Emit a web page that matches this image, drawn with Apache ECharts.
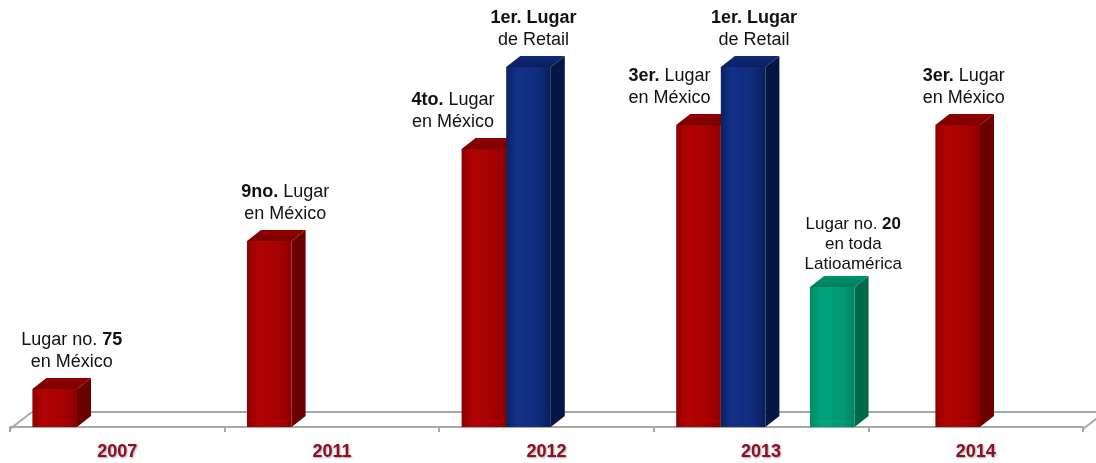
<!DOCTYPE html>
<html>
<head>
<meta charset="utf-8">
<script src="https://cdn.jsdelivr.net/npm/echarts@6/dist/echarts.min.js"></script>
<style>
html,body{margin:0;padding:0;background:#fff;}
#chart{width:1096px;height:463px;}
</style>
</head>
<body>
<div id="chart"></div>
<script>
// ---- data ----
const categories = ['2007', '2011', '2012', '2013', '2014'];
const mexicoRank     = [38, 186, 278, 302, null];
const retailRank     = [null, null, 360, 360, null];
const mexico2014Rank = [null, null, null, null, 302];
const latamRank      = [null, null, null, 140, null];

const mexicoLabels     = ['Lugar no. {b|75}\nen México', '{b|9no.} Lugar\nen México', '{b|4to.} Lugar\nen México', '{b|3er.} Lugar\nen México', ''];
const retailLabels     = ['', '', '{b|1er. Lugar}\nde Retail', '{b|1er. Lugar}\nde Retail', ''];
const mexico2014Labels = ['', '', '', '', '{b|3er.} Lugar\nen México'];
const latamLabels      = ['', '', '', 'Lugar no. {b|20}\nen toda\nLatioamérica', ''];

// ---- layout / style (not data) ----
const FONT = '"Liberation Sans", Arial, sans-serif';
const DX = 14, DY = 11;
const palettes = {
  red:   {front: ['#8e0000', '#b20303', '#a50000', '#8c0000'], side: '#6a0000', top: ['#7a0000', '#920000']},
  blue:  {front: ['#0a2262', '#13328a', '#0f2b79', '#0a1f58'], side: '#051642', top: ['#0a2060', '#10297a']},
  green: {front: ['#008a66', '#00a47d', '#009a74', '#008462'], side: '#006a4c', top: ['#007d5b', '#00936c']}
};

function buildData(values) {
  return values.map((v, i) => [i, v == null ? NaN : v]);
}

const labels3D = {1: mexicoLabels, 2: retailLabels, 3: mexico2014Labels, 4: latamLabels};

function barRenderer(slot, pal, labelShift, fontSize, lineHeight, labelGap) {
  return function (params, api) {
    const idx = api.value(0);
    const v = api.value(1);
    if (v == null || isNaN(v)) return;
    const label = labels3D[params.seriesIndex][params.dataIndex];
    const top = api.coord([idx, v]);
    const base = api.coord([idx, 0]);
    const bandW = api.size([1, 0])[0];
    const bw = bandW * 0.2078;
    const x0 = base[0] - bandW / 2 + bandW * 0.1044 + slot * bw;
    const x1 = x0 + bw;
    const yT = top[1], yB = base[1];
    const children = [
      {
        type: 'polygon',
        shape: {points: [[x1, yT], [x1 + DX, yT - DY], [x1 + DX, yB - DY], [x1, yB]]},
        style: {fill: pal.side}
      },
      {
        type: 'polygon',
        shape: {points: [[x0, yT], [x0 + DX, yT - DY], [x1 + DX, yT - DY], [x1, yT]]},
        style: {fill: new echarts.graphic.LinearGradient(0, 1, 0, 0, [
          {offset: 0, color: pal.top[0]}, {offset: 1, color: pal.top[1]}])}
      },
      {
        type: 'rect',
        shape: {x: x0, y: yT, width: bw, height: yB - yT},
        style: {fill: new echarts.graphic.LinearGradient(0, 0, 1, 0, [
          {offset: 0, color: pal.front[0]},
          {offset: 0.25, color: pal.front[1]},
          {offset: 0.75, color: pal.front[2]},
          {offset: 1, color: pal.front[3]}])}
      }
    ];
    if (label) {
      children.push({
        type: 'text',
        style: {
          text: label,
          x: x0 + bw / 2 + (labelShift[idx] || 0),
          y: yT - DY - labelGap,
          align: 'center',
          verticalAlign: 'bottom',
          fill: '#111',
          fontSize: fontSize,
          fontFamily: FONT,
          lineHeight: lineHeight,
          rich: {b: {fontWeight: 'bold', fontSize: fontSize, fontFamily: FONT, lineHeight: lineHeight, fill: '#111'}}
        }
      });
    }
    return {type: 'group', children: children};
  };
}

function floorRenderer(params, api) {
  const cs = params.coordSys;
  const yF = cs.y + cs.height + 2;
  const fx = 22, fy = 17;
  const L = cs.x, R = cs.x + cs.width;
  const st = {stroke: '#a8a8a8', lineWidth: 2, fill: null};
  return {
    type: 'group',
    children: [
      {type: 'line', shape: {x1: L + fx, y1: yF - fy, x2: R + fx + 20, y2: yF - fy}, style: st},
      {type: 'line', shape: {x1: L, y1: yF, x2: L + fx, y2: yF - fy}, style: st},
      {type: 'line', shape: {x1: R, y1: yF, x2: R + fx, y2: yF - fy}, style: st}
    ]
  };
}

const chart = echarts.init(document.getElementById('chart'), null, {renderer: 'canvas'});
chart.setOption({
  animation: false,
  backgroundColor: '#ffffff',
  grid: {left: 10, right: 13, top: 27, bottom: 36},
  xAxis: {
    type: 'category',
    data: categories,
    offset: 2,
    boundaryGap: true,
    axisLine: {show: true, lineStyle: {color: '#a8a8a8', width: 2}},
    axisTick: {show: true, length: 5, lineStyle: {color: '#a8a8a8', width: 2}},
    axisLabel: {
      margin: 14,
      fontSize: 18,
      fontWeight: 'bold',
      fontFamily: FONT,
      color: '#8c0f24',
      textShadowColor: 'rgba(0,0,0,0.35)',
      textShadowBlur: 2,
      textShadowOffsetX: 1,
      textShadowOffsetY: 1
    },
    splitLine: {show: false}
  },
  yAxis: {type: 'value', min: 0, max: 400, show: false, splitLine: {show: false}},
  series: [
    {type: 'custom', name: 'floor', renderItem: floorRenderer, data: [[0, 0]], z: 1, silent: true},
    {type: 'custom', name: 'Lugar en México', renderItem: barRenderer(0, palettes.red, [17, 16, -31, -29, 0], 18, 22, 5),
      data: buildData(mexicoRank), encode: {x: 0, y: 1}, z: 2},
    {type: 'custom', name: 'Lugar de Retail', renderItem: barRenderer(1, palettes.blue, [0, 0, 5, 11, 0], 18, 22, 5),
      data: buildData(retailRank), encode: {x: 0, y: 1}, z: 3},
    {type: 'custom', name: 'Lugar en México 2014', renderItem: barRenderer(1, palettes.red, [0, 0, 0, 0, 6], 18, 22, 5),
      data: buildData(mexico2014Rank), encode: {x: 0, y: 1}, z: 3},
    {type: 'custom', name: 'Lugar en Latinoamérica', renderItem: barRenderer(3, palettes.green, [0, 0, 0, 21, 0], 17, 20, 2),
      data: buildData(latamRank), encode: {x: 0, y: 1}, z: 4}
  ]
});
</script>
</body>
</html>
